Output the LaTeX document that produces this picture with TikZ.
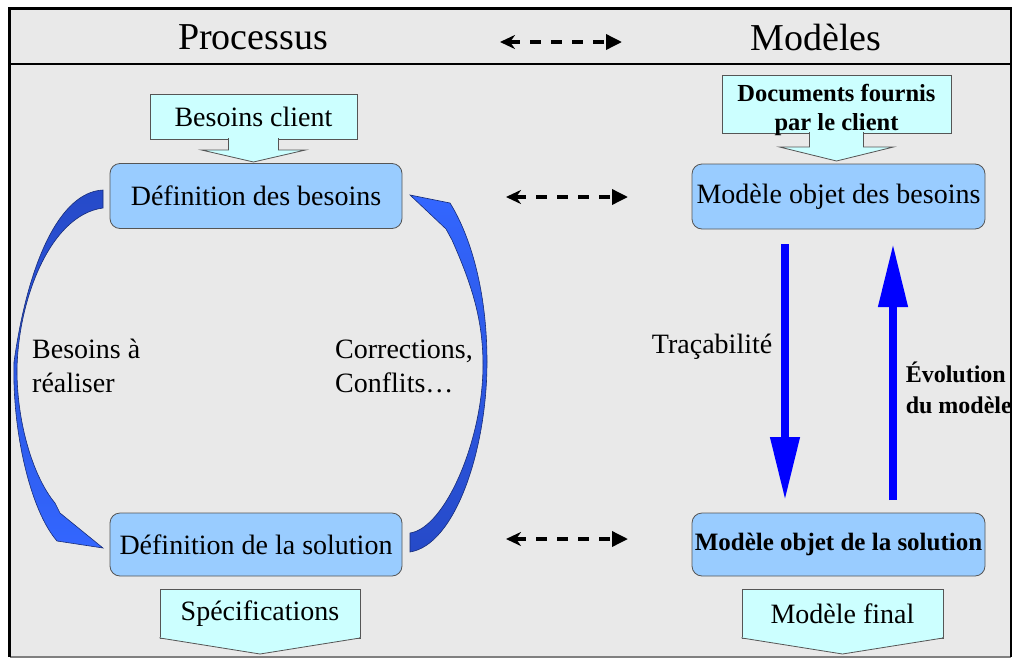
\documentclass[tikz,border=0pt]{standalone}
\usepackage{fontspec}
\setmainfont{Liberation Serif}
\usetikzlibrary{arrows.meta,calc}
\definecolor{bgGray}{RGB}{233,233,233}
\definecolor{boxBlue}{RGB}{153,204,255}
\definecolor{calloutCyan}{RGB}{204,255,255}
\definecolor{edgeGray}{RGB}{85,85,85}
\definecolor{curveDark}{RGB}{38,74,200}
\definecolor{curveLight}{RGB}{51,102,255}
\definecolor{arrowBlue}{RGB}{0,0,255}

\begin{document}
\begin{tikzpicture}[x=1pt,y=-1pt,
  every node/.style={font=\fontsize{28}{34}\selectfont},
  headfont/.style={font=\fontsize{38}{40}\selectfont},
  roundbox/.style={draw=edgeGray,fill=boxBlue,rounded corners=10pt,line width=.8pt,minimum width=292pt,minimum height=65pt,inner sep=0pt,outer sep=0pt},
  cyanbox/.style={draw=edgeGray,fill=calloutCyan,line width=.8pt,inner sep=0pt,outer sep=0pt},
  linkarrow/.style={line width=3.5pt,dash pattern=on 11pt off 10pt,{Stealth[length=15pt,width=14pt]}-{Triangle[length=16pt,width=15pt]}},
  bluearrow/.style={draw=arrowBlue,line width=7.5pt,-{Triangle[length=63pt,width=28pt]}},
  curvearrow/.style={draw=curveDark!60!black,line width=.6pt}]
\useasboundingbox (0,0) rectangle (1015,659);
\fill[bgGray] (9.5,8.5) rectangle (1011,657);
\draw[gray,line width=1.5pt] (9.5,657) -- (1011,657);
\draw[line width=2.5pt] (9.5,657) -- (9.5,8.5) -- (1011,8.5) -- (1011,657);
\draw[line width=2pt] (9.5,64) -- (1011,64);

\node[headfont] (proc) at (253,37) {Processus};
\node[headfont] (mods) at (816,37) {Modèles};
\coordinate (hl) at (500,42);
\coordinate (hr) at (622,42);
\draw[linkarrow] (hl) -- (hr);

\node[roundbox] (defb) at (256,196) {Définition des besoins};
\node[roundbox,minimum height=63pt] (defs) at (256,544.5) {Définition de la solution};
\node[roundbox,minimum width=293pt] (mob) at (838.5,196.5) {Modèle objet des besoins};
\node[roundbox,minimum width=293pt,minimum height=63pt,font=\bfseries\fontsize{25}{30}\selectfont] (mos) at (838.5,544.5) {Modèle objet de la solution};

\node[cyanbox,minimum width=207pt,minimum height=45pt] (bcl) at (253.5,116.5) {Besoins client};
\draw[cyanbox] ($(bcl.south)+(-25,-1)$) -- ++(0,12) -- ++(-27,0) -- ($(bcl.south)+(0,23)$) -- ($(bcl.south)+(52,11)$) -- ++(-27,0) -- ++(0,-12);
\node[cyanbox,minimum width=229pt,minimum height=58pt,
  label={[font=\bfseries\fontsize{24.5}{29}\selectfont,align=center,yshift=-5.5pt]center:{Documents fournis\\par le client}}] (doc) at (836.5,104) {};
\draw[cyanbox] ($(doc.south)+(-27,-1)$) -- ++(0,15) -- ++(-30,0) -- ($(doc.south)+(0,28)$) -- ($(doc.south)+(57,14)$) -- ++(-30,0) -- ++(0,-15);

\node[cyanbox,minimum width=200pt,minimum height=49pt] (spec) at (260,613.5) {Spécifications};
\draw[cyanbox] ($(spec.south west)+(0,-1)$) -- (spec.south west) -- ($(spec.south)+(0,16)$) -- (spec.south east) -- ($(spec.south east)+(0,-1)$);
\node[cyanbox,minimum width=201pt,minimum height=49pt] (mfin) at (842.5,613.5) {Modèle final};
\draw[cyanbox] ($(mfin.south west)+(0,-1)$) -- (mfin.south west) -- ($(mfin.south)+(0,16)$) -- (mfin.south east) -- ($(mfin.south east)+(0,-1)$);

\coordinate (l1) at (506,197);
\coordinate (r1) at (628,197);
\coordinate (l2) at (506,539);
\coordinate (r2) at (628,539);
\draw[linkarrow] (l1) -- (r1);
\draw[linkarrow] (l2) -- (r2);

\draw[bluearrow] ([xshift=-53.5pt,yshift=-15pt]mob.south) -- ([xshift=-53.5pt,yshift=13pt]mos.north)
  node[pos=.4,left=9pt,inner sep=0pt] {Traçabilité};
\draw[bluearrow] ([xshift=54.5pt,yshift=13pt]mos.north) -- ([xshift=54.5pt,yshift=-15pt]mob.south)
  node[pos=.44,right=9pt,inner sep=0pt,align=left,font=\bfseries\fontsize{24}{31}\selectfont] {Évolution\\du modèle};

\shadedraw[curvearrow,top color=curveDark,bottom color=curveLight]
  ([shift={(-7,-6)}]defb.west) .. controls (60,192) and (28,262) .. (14,362)
  .. controls (12,430) and (30,510) .. (57,541)
  -- ([shift={(-7,3.5)}]defs.west) -- (60,513) -- (55,503)
  .. controls (34,478) and (17,425) .. (17,370)
  .. controls (18,300) and (50,215) .. ([shift={(-7,12)}]defb.west) -- cycle;
\shadedraw[curvearrow,top color=curveLight,bottom color=curveDark]
  ([shift={(8,7.5)}]defs.east) .. controls (455,545) and (487,450) .. (487,362)
  .. controls (487,290) and (470,235) .. (450,203)
  -- ([shift={(8,-1)}]defb.east) -- (446,229) -- (452,240)
  .. controls (472,285) and (483,320) .. (483,365)
  .. controls (483,440) and (445,528) .. ([shift={(8,-11.5)}]defs.east) -- cycle;

\node[anchor=west,align=left,inner sep=0pt] (bar) at (32,366) {Besoins à\\réaliser};
\node[anchor=west,align=left,inner sep=0pt] (corr) at (335,366) {Corrections,\\Conflits…};
\end{tikzpicture}
\end{document}
